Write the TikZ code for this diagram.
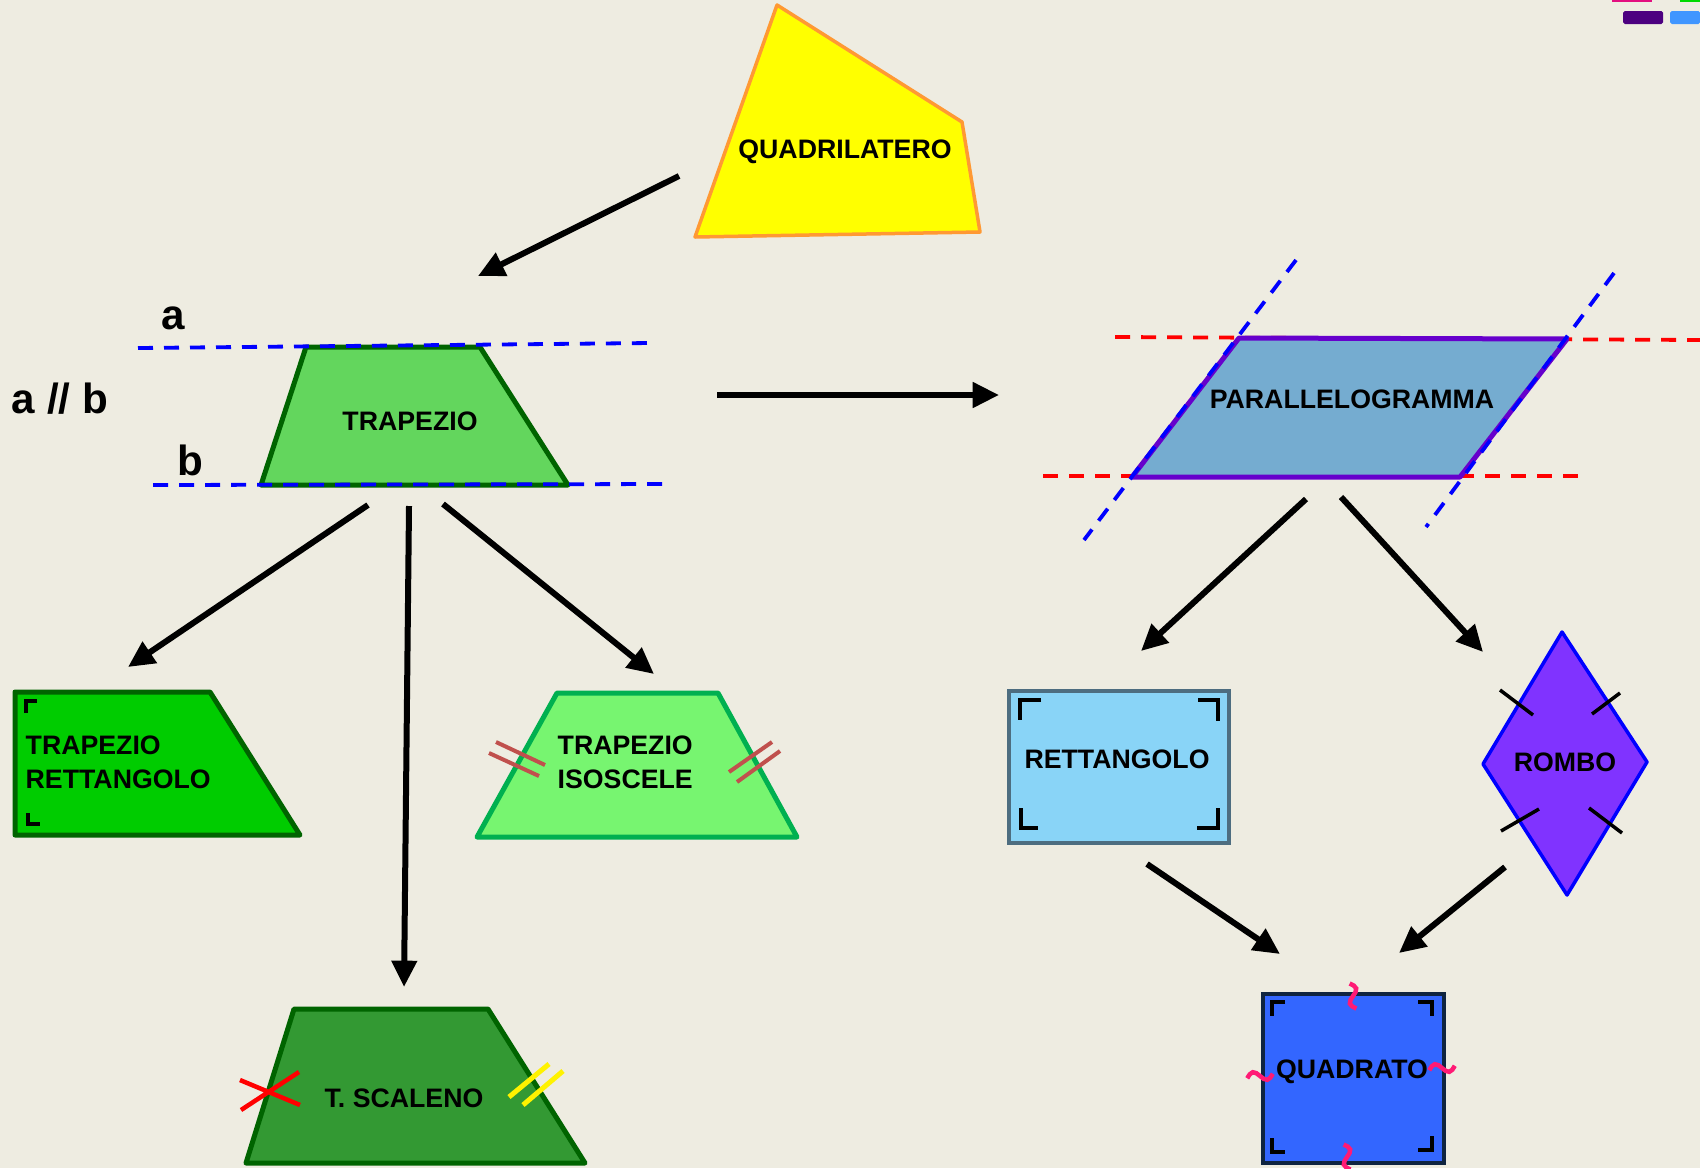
\documentclass[tikz,border=0pt]{standalone}
\usepackage{fontspec}
\setmainfont{Liberation Sans}
\usetikzlibrary{arrows.meta}
\definecolor{paper}{HTML}{EEECE1}
\definecolor{quadfill}{HTML}{FFFF00}
\definecolor{quadline}{HTML}{FF9933}
\definecolor{trapfill}{HTML}{63D65D}
\definecolor{trapline}{HTML}{006400}
\definecolor{rettfillg}{HTML}{00CC00}
\definecolor{isofill}{HTML}{77F570}
\definecolor{isoline}{HTML}{00B050}
\definecolor{scalfill}{HTML}{339933}
\definecolor{parafill}{HTML}{75ACD0}
\definecolor{paraline}{HTML}{6600CC}
\definecolor{rettfill}{HTML}{89D4F7}
\definecolor{rettline}{HTML}{4D6D80}
\definecolor{rombofill}{HTML}{8033FF}
\definecolor{quadrfill}{HTML}{3366FF}
\definecolor{quadrline}{HTML}{0F2440}
\definecolor{tickred}{HTML}{C0504D}
\definecolor{wavepink}{HTML}{FF1A75}

\begin{document}
\begin{tikzpicture}[x=0.1mm,y=-0.1mm,>={Triangle[length=7.5pt,width=7pt]},
  every node/.style={font=\bfseries\fontsize{7.6}{9.7}\selectfont,inner sep=0pt,align=left},
  lbl/.style={font=\bfseries\fontsize{12}{14}\selectfont},
  link/.style={->,line width=0.6mm},
  guide/.style={dash pattern=on 1.5mm off 1.1mm,line width=0.38mm},
  outline/.style={line width=0.5mm,line join=round},
  tick/.style={line width=0.35mm},
  squiggle/.pic={\draw[wavepink,line width=0.45mm] (-13,0) sin (-6.5,-5) cos (0,0) sin (6.5,5) cos (13,0);}]
\useasboundingbox (0,0) rectangle (1700,1168);
\fill[paper] (0,0) rectangle (1700,1168);

% top right buttons
\fill[magenta!80!purple] (1612,0) rectangle (1652,2);
\fill[green!85!black] (1680,0) rectangle (1700,2);
\fill[rounded corners=0.5pt,violet!75!blue!80!black] (1623,11) rectangle (1663,24);
\fill[rounded corners=0.5pt,blue!55!cyan!75] (1670,11) rectangle (1700,24);

% quadrilatero
\filldraw[outline,line width=0.35mm,fill=quadfill,draw=quadline] (777,5) -- (962,122) -- (980,232) -- (695,237) -- cycle;
\node (quad) at (845,152) {QUADRILATERO};

% trapezio
\filldraw[outline,fill=trapfill,draw=trapline] (306,347) -- (480,347) -- (568,485) -- (261,485) -- cycle;
\node (trap) at (410,421) {TRAPEZIO};
\draw[guide,blue] (138,348) -- (651,343);
\draw[guide,blue] (153,485) -- (672,484);
\node[lbl] (la) at (173,318) {a};
\node[lbl] (lb) at (190,460) {b};
\node[lbl] (lab) at (60,399) {a // b};

% trapezio rettangolo
\filldraw[outline,fill=rettfillg,draw=trapline] (15,692) -- (210,692) -- (300,835) -- (15,835) -- cycle;
\draw[tick] (37,701) -- (26,701) -- (26,713);
\draw[tick] (28,813) -- (28,824) -- (40,824);
\node[anchor=west] (trapR) at (25,762) {TRAPEZIO\\RETTANGOLO};

% trapezio isoscele
\filldraw[outline,fill=isofill,draw=isoline] (557,693) -- (718,693) -- (797,837) -- (477,837) -- cycle;
\node[anchor=west] (trapI) at (557,762) {TRAPEZIO\\ISOSCELE};
\draw[tick,line width=0.4mm,tickred] (496,742) -- (545,765) (489,753) -- (539,776);
\draw[tick,line width=0.4mm,tickred] (772,742) -- (729,772) (780,751) -- (737,782);

% trapezio scaleno
\filldraw[outline,fill=scalfill,draw=trapline] (294,1009) -- (488,1009) -- (585,1163) -- (246,1163) -- cycle;
\node (trapS) at (404,1098) {T. SCALENO};
\draw[tick,line width=0.45mm,red] (240,1080) -- (300,1105) (241,1110) -- (299,1072);
\draw[tick,line width=0.5mm,yellow] (509,1097) -- (549,1064) (523,1105) -- (563,1071);

% parallelogramma
\draw[guide,red] (1115,337) -- (1700,340);
\draw[guide,red] (1043,476) -- (1581,476);
\filldraw[outline,fill=parafill,draw=paraline] (1239,338) -- (1567,339) -- (1460,477) -- (1132,477) -- cycle;
\draw[guide,blue] (1296,260) -- (1084,540);
\draw[guide,blue] (1614,273) -- (1426,527);
\node (para) at (1352,399) {PARALLELOGRAMMA};

% rettangolo
\filldraw[outline,line width=0.4mm,line join=miter,fill=rettfill,draw=rettline] (1009,691) rectangle (1229,843);
\draw[tick] (1041,700) -- (1020,700) -- (1020,720);
\draw[tick] (1198,700) -- (1218,700) -- (1218,721);
\draw[tick] (1021,808) -- (1021,828) -- (1038,828);
\draw[tick] (1218,808) -- (1218,828) -- (1197,828);
\node (rett) at (1117,759) {RETTANGOLO};

% rombo
\filldraw[outline,line width=0.35mm,fill=rombofill,draw=blue] (1562,632) -- (1647,762) -- (1567,895) -- (1483,764) -- cycle;
\draw[tick] (1500,690) -- (1533,715) (1620,693) -- (1592,714);
\draw[tick] (1501,831) -- (1539,809) (1589,808) -- (1622,833);
\node (rombo) at (1565,762) {ROMBO};

% quadrato
\filldraw[outline,line width=0.4mm,line join=miter,fill=quadrfill,draw=quadrline] (1263,994) rectangle (1444,1163);
\draw[tick] (1285,1002) -- (1272,1002) -- (1272,1016);
\draw[tick] (1418,1002) -- (1432,1002) -- (1432,1016);
\draw[tick] (1272,1138) -- (1272,1152) -- (1285,1152);
\draw[tick] (1432,1136) -- (1432,1150) -- (1418,1150);
\node (quadr) at (1352,1072) {QUADRATO};
\pic[rotate=-75] at (1353,996) {squiggle};
\pic[rotate=-75] at (1347,1157) {squiggle};
\pic[rotate=10] at (1260,1076) {squiggle};
\pic[rotate=10] at (1442,1068) {squiggle};

% arrow ends
\coordinate (quad-out) at (679,176);
\coordinate (trap-in) at (478,276);
\coordinate (trap-out) at (717,395);
\coordinate (para-in) at (999,395);
\coordinate (trap-l) at (368,505);
\coordinate (trapR-in) at (128,667);
\coordinate (trap-m) at (409,506);
\coordinate (trapS-in) at (404,987);
\coordinate (trap-r) at (443,504);
\coordinate (trapI-in) at (654,674);
\coordinate (para-l) at (1306,499);
\coordinate (rett-in) at (1141,651);
\coordinate (para-r) at (1341,497);
\coordinate (rombo-in) at (1483,652);
\coordinate (rett-out) at (1147,864);
\coordinate (quadr-l) at (1280,954);
\coordinate (rombo-out) at (1505,867);
\coordinate (quadr-r) at (1399,953);

\draw[link] (quad-out) -- (trap-in);
\draw[link] (trap-out) -- (para-in);
\draw[link] (trap-l) -- (trapR-in);
\draw[link] (trap-m) -- (trapS-in);
\draw[link] (trap-r) -- (trapI-in);
\draw[link] (para-l) -- (rett-in);
\draw[link] (para-r) -- (rombo-in);
\draw[link] (rett-out) -- (quadr-l);
\draw[link] (rombo-out) -- (quadr-r);
\end{tikzpicture}
\end{document}
